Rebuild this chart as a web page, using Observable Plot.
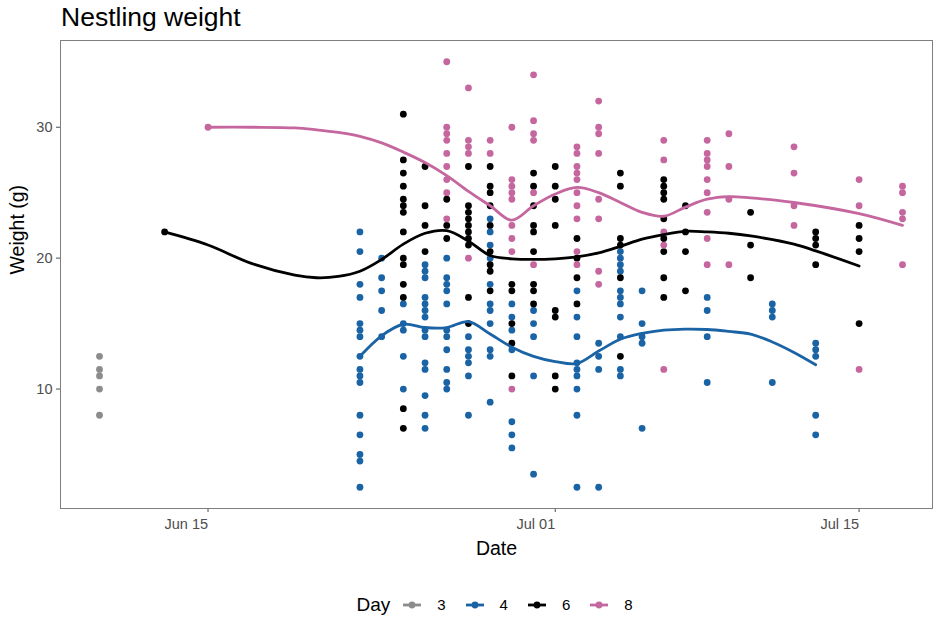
<!DOCTYPE html>
<html><head><meta charset="utf-8">
<script src="https://cdn.jsdelivr.net/npm/d3@7"></script>
<script src="https://cdn.jsdelivr.net/npm/@observablehq/plot@0.6"></script>
<style>
body{margin:0;background:#fff;font-family:"Liberation Sans",Arial,Helvetica,sans-serif;}
#title{height:30px;line-height:35px;padding-left:61px;font-size:26.5px;color:#000;white-space:nowrap;}
#chart svg{display:block;}
#legend{height:52px;box-sizing:border-box;padding-top:28px;padding-left:72px;display:flex;justify-content:center;align-items:center;}
#legend .lt{font-size:19px;margin-right:11px;line-height:20px;}
#legend .lk{margin-right:14px;}
#legend .ll{font-size:15px;margin-right:18px;line-height:20px;color:#000;}
</style></head><body>
<div id="title">Nestling weight</div>
<div id="chart"></div>
<div id="legend"></div>
<script>
// Legend / colour levels
const dayLevels = ["3", "4", "6", "8"];
const dayColors = ["#8c8c8c", "#1a63a5", "#000000", "#c5679e"];

// Observed weights (g) by date, per nestling age (Day)
const pointsDay3 = [
  ["2019-06-10", [12.5, 11.5, 11, 10, 8]]
];
const pointsDay4 = [
  ["2019-06-22", [22, 20.5, 18, 17, 15, 14.5, 14, 12.5, 11.5, 11, 10.5, 8, 6.5, 5, 4.5, 2.5]],
  ["2019-06-23", [20, 18.5, 17.5, 16, 14]],
  ["2019-06-24", [16.5, 15, 14.5, 12.5, 10]],
  ["2019-06-25", [19.5, 19, 18.5, 17, 16.5, 16, 15.5, 14.5, 14, 12, 11.5, 9.5, 8, 7]],
  ["2019-06-26", [20, 18.5, 18, 17.5, 16.5, 14.5, 14, 13, 11.5, 10.5, 10]],
  ["2019-06-27", [14, 13, 12.5, 12, 11, 8]],
  ["2019-06-28", [23, 22, 21, 20, 18, 16.5, 16, 15, 13, 12.5, 9]],
  ["2019-06-29", [16.5, 15.5, 14.5, 13, 7.5, 6.5, 5.5]],
  ["2019-06-30", [16, 15, 14, 11, 3.5]],
  ["2019-07-02", [17.5, 15.5, 14, 12, 11.5, 11, 10, 8, 2.5]],
  ["2019-07-03", [13.5, 12.5, 11.5, 2.5]],
  ["2019-07-04", [20.5, 20, 19.5, 19, 17.5, 17, 16.5, 15.5, 14, 11.5, 11]],
  ["2019-07-05", [17.5, 15, 14, 13.5, 7]],
  ["2019-07-08", [17, 16, 14, 10.5]],
  ["2019-07-11", [16.5, 16, 15.5, 10.5]],
  ["2019-07-13", [13.5, 13, 12.5, 8, 6.5]]
];
const pointsDay6 = [
  ["2019-06-13", [22]],
  ["2019-06-24", [31, 27.5, 26.5, 25.5, 24.5, 24, 23.5, 22, 20, 19.5, 18, 17, 8.5, 7]],
  ["2019-06-25", [27, 24, 22.5, 20.5]],
  ["2019-06-26", [24.5, 22.5, 21.5]],
  ["2019-06-27", [27, 24, 23.5, 23, 22.5, 22, 21.5, 21, 17, 15]],
  ["2019-06-28", [27, 25.5, 25, 24, 22.5, 20.5, 19.5, 19, 17.5]],
  ["2019-06-29", [18, 17.5, 15, 13.5, 11]],
  ["2019-06-30", [26.5, 25.5, 24, 22.5, 22, 20.5, 18, 17.5, 16.5]],
  ["2019-07-01", [27, 25.5, 24.5, 22.5, 16, 15.5, 11, 10]],
  ["2019-07-02", [21.5, 20, 18.5, 16.5]],
  ["2019-07-04", [26.5, 25.5, 21.5, 21, 18.5, 12.5]],
  ["2019-07-06", [26, 25.5, 25, 24.5, 23, 21.5, 20.5, 18.5, 17]],
  ["2019-07-07", [24, 22, 20.5, 17.5]],
  ["2019-07-10", [23.5, 21, 18.5]],
  ["2019-07-13", [22, 21.5, 21, 19.5]],
  ["2019-07-15", [22.5, 21.5, 20.5, 15]]
];
const pointsDay8 = [
  ["2019-06-15", [30]],
  ["2019-06-26", [35, 30, 29.5, 29, 28, 27, 26, 25, 23]],
  ["2019-06-27", [33, 29, 28.5, 28, 20]],
  ["2019-06-28", [29, 28]],
  ["2019-06-29", [30, 26, 25.5, 25, 24.5, 22.5, 21.5, 20.5, 10]],
  ["2019-06-30", [34, 30.5, 29.5, 29, 25, 19.5]],
  ["2019-07-02", [28.5, 28, 27, 26.5, 26, 25, 24, 23, 20.5, 19.5]],
  ["2019-07-03", [32, 30, 29.5, 28, 24.5, 23, 19, 18]],
  ["2019-07-06", [29, 27.5, 22, 21, 11.5]],
  ["2019-07-08", [29, 28, 27.5, 27, 26, 25, 23.5, 21.5, 19.5]],
  ["2019-07-09", [29.5, 27, 24.5, 19.5]],
  ["2019-07-12", [28.5, 26.5, 24, 22.5]],
  ["2019-07-15", [26, 24, 11.5]],
  ["2019-07-17", [25.5, 25, 23.5, 23, 19.5]]
];

// Smoothed trend lines
const smoothDay4 = [
  ["2019-06-22", 12.5], ["2019-06-23", 14.07], ["2019-06-24", 14.95], ["2019-06-25", 14.7],
  ["2019-06-26", 14.7], ["2019-06-27", 15.15], ["2019-06-28", 14.2], ["2019-06-29", 13.2],
  ["2019-06-30", 12.5], ["2019-07-01", 12.1], ["2019-07-02", 11.95], ["2019-07-03", 12.9],
  ["2019-07-04", 13.8], ["2019-07-05", 14.25], ["2019-07-06", 14.5], ["2019-07-07", 14.58],
  ["2019-07-08", 14.55], ["2019-07-09", 14.4], ["2019-07-10", 14.2], ["2019-07-11", 13.6],
  ["2019-07-12", 12.8], ["2019-07-13", 11.86]
];
const smoothDay6 = [
  ["2019-06-13", 22.0], ["2019-06-15", 21.0], ["2019-06-17", 19.6], ["2019-06-19", 18.7],
  ["2019-06-20", 18.5], ["2019-06-21", 18.6], ["2019-06-22", 19.0], ["2019-06-23", 19.9],
  ["2019-06-24", 21.07], ["2019-06-25", 21.9], ["2019-06-26", 22.1], ["2019-06-27", 21.3],
  ["2019-06-28", 20.2], ["2019-06-29", 19.95], ["2019-06-30", 19.9], ["2019-07-01", 19.95],
  ["2019-07-02", 20.1], ["2019-07-03", 20.4], ["2019-07-04", 20.9], ["2019-07-05", 21.45],
  ["2019-07-06", 21.8], ["2019-07-07", 22.05], ["2019-07-08", 22.0], ["2019-07-09", 21.9],
  ["2019-07-10", 21.7], ["2019-07-12", 21.07], ["2019-07-13", 20.55], ["2019-07-15", 19.4]
];
const smoothDay8 = [
  ["2019-06-15", 30.0], ["2019-06-17", 30.0], ["2019-06-19", 29.95], ["2019-06-20", 29.8],
  ["2019-06-21", 29.6], ["2019-06-22", 29.3], ["2019-06-23", 28.8], ["2019-06-24", 28.1],
  ["2019-06-25", 27.3], ["2019-06-26", 26.3], ["2019-06-27", 25.1], ["2019-06-28", 24.0],
  ["2019-06-29", 22.9], ["2019-06-30", 24.0], ["2019-07-01", 24.9], ["2019-07-02", 25.4],
  ["2019-07-03", 25.0], ["2019-07-04", 24.25], ["2019-07-05", 23.5], ["2019-07-06", 23.2],
  ["2019-07-07", 23.9], ["2019-07-08", 24.5], ["2019-07-09", 24.7], ["2019-07-10", 24.6],
  ["2019-07-12", 24.25], ["2019-07-15", 23.4], ["2019-07-17", 22.5]
];

// Axis ticks and scale domains
const xTicks = ["2019-06-15", "2019-07-01", "2019-07-15"];
const yTicks = [10, 20, 30];
const xDomain = ["2019-06-08T04:52", "2019-07-18T09:10"];
const yDomain = [0.875, 36.625];

// Build tables
const expand = (day, rows) => rows.flatMap(([d, ws]) => ws.map(w => ({day, date: new Date(d + "T00:00Z"), weight: w})));
const points = [
  ...expand("3", pointsDay3), ...expand("4", pointsDay4),
  ...expand("6", pointsDay6), ...expand("8", pointsDay8)
];
const toLine = (day, rows) => rows.map(([d, v]) => ({day, date: new Date(d + "T00:00Z"), weight: v}));
const lines = [...toLine("4", smoothDay4), ...toLine("6", smoothDay6), ...toLine("8", smoothDay8)];

const chart = Plot.plot({
  width: 935,
  height: 535,
  marginTop: 10,
  marginBottom: 57,
  marginLeft: 60,
  marginRight: 3,
  style: {fontFamily: "'Liberation Sans', Arial, Helvetica, sans-serif", background: "#fff"},
  x: {type: "utc", domain: xDomain.map(d => new Date(d + "Z"))},
  y: {domain: yDomain},
  color: {domain: dayLevels, range: dayColors},
  marks: [
    Plot.axisY({ticks: yTicks, tickSize: 4, tickPadding: 4, fontSize: 14.5, color: "#4d4d4d", label: null}),
    Plot.axisX({ticks: xTicks.map(d => new Date(d + "T00:00Z")), tickFormat: d3.utcFormat("%b %d"),
      tickSize: 4, tickPadding: 6, fontSize: 14.5, color: "#4d4d4d", textAnchor: "end", label: null}),
    Plot.dot(points, {x: "date", y: "weight", fill: "day", r: 3.4, stroke: "none"}),
    Plot.line(lines, {x: "date", y: "weight", z: "day", stroke: "day", strokeWidth: 2.8, curve: "catmull-rom"}),
    Plot.frame({stroke: "#7f7f7f", strokeWidth: 1}),
    Plot.text(["Date"], {frameAnchor: "bottom", dy: 40, fontSize: 19.5, fill: "#000", lineAnchor: "middle"}),
    Plot.text(["Weight (g)"], {frameAnchor: "left", dx: -43, rotate: -90, fontSize: 19.5, fill: "#000", lineAnchor: "middle"})
  ]
});
document.getElementById("chart").appendChild(chart);

// Legend (line + point keys)
const legend = d3.select("#legend");
legend.append("span").attr("class", "lt").text("Day");
dayLevels.forEach((lvl, i) => {
  const svg = legend.append("svg").attr("class", "lk").attr("width", 22).attr("height", 14);
  svg.append("line").attr("x1", 2).attr("x2", 20).attr("y1", 7).attr("y2", 7)
    .attr("stroke", dayColors[i]).attr("stroke-width", 2.8);
  svg.append("circle").attr("cx", 11).attr("cy", 7).attr("r", 3.4).attr("fill", dayColors[i]);
  legend.append("span").attr("class", "ll").text(lvl);
});
</script>
</body></html>
